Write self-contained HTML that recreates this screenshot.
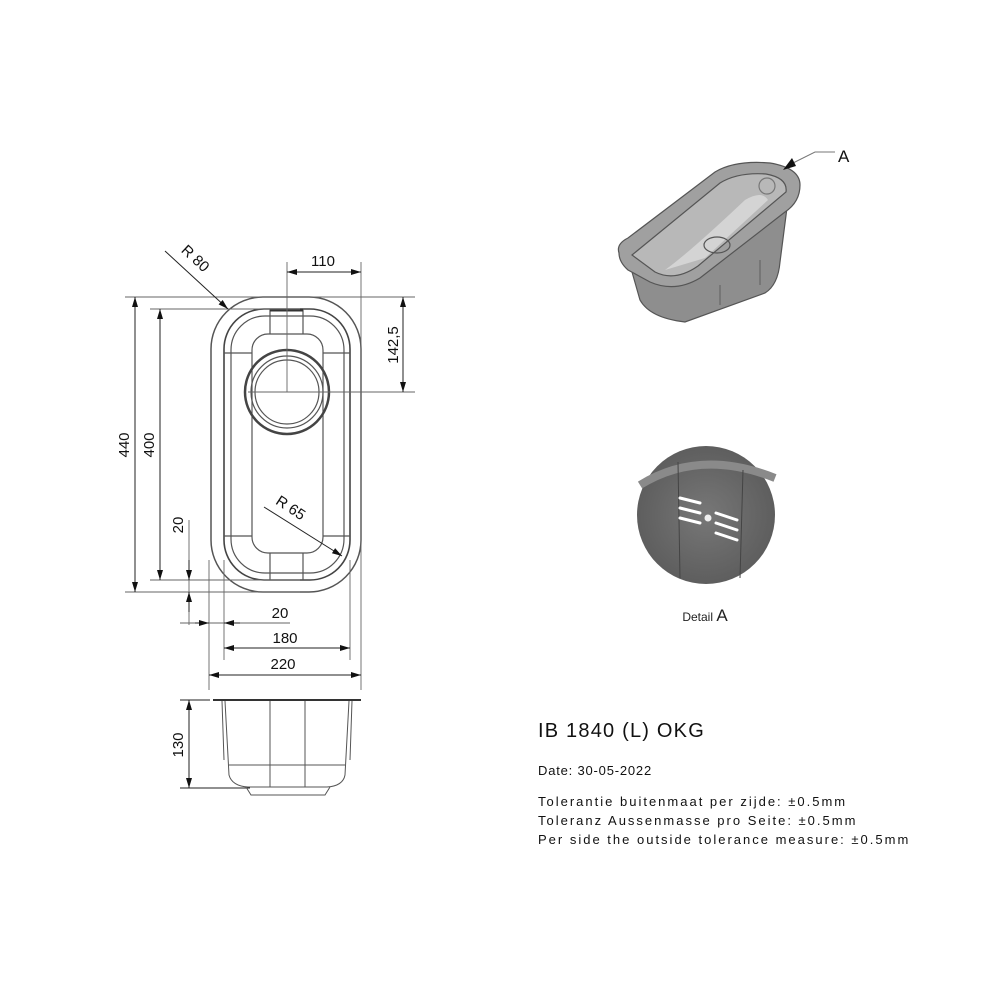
<!DOCTYPE html>
<html><head><meta charset="utf-8"><style>
html,body{margin:0;padding:0;background:#fff;}
svg{display:block;font-family:"Liberation Sans",sans-serif;}
</style></head><body>
<svg width="1000" height="1000" viewBox="0 0 1000 1000" xmlns="http://www.w3.org/2000/svg">
<defs>
<marker id="a" viewBox="0 0 10 6" refX="10" refY="3" markerWidth="11" markerHeight="6" markerUnits="userSpaceOnUse" orient="auto-start-reverse"><path d="M0,0L10,3L0,6z" fill="#111"/></marker>
<radialGradient id="dg" cx="0.5" cy="0.5" r="0.5"><stop offset="0" stop-color="#777"/><stop offset="1" stop-color="#5e5e5e"/></radialGradient>
</defs>
<g fill="none" stroke="#555" stroke-width="1.2">
<rect x="211" y="297" width="150" height="295" rx="52" stroke-width="1.5"/>
<rect x="224" y="309" width="126" height="271" rx="40" stroke-width="1.6" stroke="#444"/>
<rect x="231" y="316" width="113" height="257" rx="34"/>
<rect x="252" y="334" width="71" height="219" rx="16"/>
<line x1="224" y1="353" x2="252" y2="353"/><line x1="323" y1="353" x2="350" y2="353"/>
<line x1="224" y1="536" x2="252" y2="536"/><line x1="323" y1="536" x2="350" y2="536"/>
<path d="M270 309V334M303 309V334M270 553V580M303 553V580"/>
<line x1="270" y1="310" x2="303" y2="310" stroke-width="3" stroke="#333"/>
<circle cx="287" cy="392" r="42" stroke-width="2.5" stroke="#444"/>
<circle cx="287" cy="392" r="36"/>
<circle cx="287" cy="392" r="32"/>
</g>
<g stroke="#666" stroke-width="0.9" fill="none">
<line x1="287" y1="262" x2="287" y2="392"/><line x1="361" y1="262" x2="361" y2="690"/>
<line x1="248" y1="392" x2="415" y2="392"/>
<line x1="125" y1="297" x2="415" y2="297"/>
<line x1="150" y1="309" x2="300" y2="309"/>
<line x1="150" y1="580" x2="300" y2="580"/>
<line x1="125" y1="592" x2="300" y2="592"/>
<line x1="209" y1="560" x2="209" y2="690"/>
<line x1="224" y1="560" x2="224" y2="660"/>
<line x1="350" y1="560" x2="350" y2="660"/>
<line x1="189" y1="520" x2="189" y2="625"/>
<line x1="180" y1="623" x2="290" y2="623"/>
</g>
<g stroke="#222" stroke-width="1" fill="none">
<line x1="287" y1="272" x2="361" y2="272" marker-start="url(#a)" marker-end="url(#a)"/>
<line x1="403" y1="297" x2="403" y2="392" marker-start="url(#a)" marker-end="url(#a)"/>
<line x1="135" y1="297" x2="135" y2="592" marker-start="url(#a)" marker-end="url(#a)"/>
<line x1="160" y1="309" x2="160" y2="580" marker-start="url(#a)" marker-end="url(#a)"/>
<line x1="189" y1="560" x2="189" y2="580" marker-end="url(#a)"/>
<line x1="189" y1="612" x2="189" y2="592" marker-end="url(#a)"/>
<line x1="195" y1="623" x2="209" y2="623" marker-end="url(#a)"/>
<line x1="240" y1="623" x2="224" y2="623" marker-end="url(#a)"/>
<line x1="224" y1="648" x2="350" y2="648" marker-start="url(#a)" marker-end="url(#a)"/>
<line x1="209" y1="675" x2="361" y2="675" marker-start="url(#a)" marker-end="url(#a)"/>
<line x1="165" y1="251" x2="228" y2="309" marker-end="url(#a)"/>
<line x1="264" y1="507" x2="342" y2="556" marker-end="url(#a)"/>
<line x1="189" y1="700" x2="189" y2="788" marker-start="url(#a)" marker-end="url(#a)"/>
<line x1="180" y1="700" x2="210" y2="700"/><line x1="180" y1="788" x2="250" y2="788"/>
</g>
<g fill="none" stroke="#555" stroke-width="1">
<line x1="213" y1="700" x2="361" y2="700" stroke-width="2" stroke="#333"/>
<path d="M225 701 L229 775 Q232 786 248 787 L327 787 Q343 786 345 775 L349 701"/>
<path d="M222 701 L224 760 M352 701 L350 760"/>
<path d="M270 701V787M305 701V787M229 765H345"/>
<path d="M246 787 L251 795 H325 L330 787"/>
</g>
<g font-size="15" fill="#111" text-anchor="middle">
<text x="323" y="266">110</text>
<text transform="translate(398,345) rotate(-90)">142,5</text>
<text transform="translate(129,445) rotate(-90)">440</text>
<text transform="translate(154,445) rotate(-90)">400</text>
<text transform="translate(183,525) rotate(-90)">20</text>
<text transform="translate(183,745) rotate(-90)">130</text>
<text x="280" y="618">20</text>
<text x="285" y="643">180</text>
<text x="283" y="669">220</text>
<text transform="translate(192,262) rotate(43)">R  80</text>
<text transform="translate(288,512) rotate(33)">R  65</text>
</g>
<!-- iso sink -->
<g stroke="#555" stroke-width="1.2">
<path d="M630 265 L640 300 Q650 318 685 322 L765 293 Q778 285 780 262 L788 200 Z" fill="#8e8e8e"/>
<path d="M619 253 Q616 244 628 238 L715 172 Q735 160 770 163 Q800 168 800 185 Q800 202 785 212 L700 278 Q675 293 650 282 L628 270 Q619 262 619 253Z" fill="#a0a0a0"/>
<path d="M632 255 L720 183 Q738 172 766 174 Q788 178 786 192 L698 266 Q675 282 655 272 Z" fill="#b8b8b8"/>
<path d="M665 270 Q690 252 745 200 Q762 190 768 200 L705 258Z" fill="#d4d4d4" stroke="none"/>
<ellipse cx="717" cy="245" rx="13" ry="8" fill="none"/>
<circle cx="767" cy="186" r="8" fill="none" stroke="#777"/>
<path d="M720 285V305M760 260V285" fill="none" stroke="#666"/>
</g>
<polyline points="787,166 815,152 835,152" fill="none" stroke="#777" stroke-width="1"/>
<path d="M783 170 L792 158 L796 166Z" fill="#111"/>
<text x="838" y="162" font-size="17" fill="#111">A</text>
<!-- detail A -->
<circle cx="706" cy="515" r="69" fill="url(#dg)"/>
<path d="M640 485 Q700 448 775 478" stroke="#8a8a8a" stroke-width="8" fill="none"/>
<path d="M678 462 L680 578 M743 470 L740 578" stroke="#444" stroke-width="1" fill="none"/>
<g stroke="#fff" stroke-width="3" stroke-linecap="round">
<line x1="680" y1="498" x2="700" y2="503"/>
<line x1="680" y1="508" x2="700" y2="513"/><line x1="716" y1="513" x2="737" y2="520"/>
<line x1="680" y1="518" x2="700" y2="523"/><line x1="716" y1="523" x2="737" y2="530"/>
<line x1="716" y1="533" x2="737" y2="540"/>
</g>
<circle cx="708" cy="518" r="3.5" fill="#eee"/>
<text x="705" y="621" font-size="12" fill="#222" text-anchor="middle">Detail <tspan font-size="17">A</tspan></text>
<g fill="#111">
<text x="538" y="737" font-size="20" letter-spacing="1.2">IB 1840 (L) OKG</text>
<text x="538" y="775" font-size="13" letter-spacing="0.8">Date: 30-05-2022</text>
<text x="538" y="806" font-size="13" letter-spacing="2">Tolerantie buitenmaat per zijde: ±0.5mm</text>
<text x="538" y="825" font-size="13" letter-spacing="2">Toleranz Aussenmasse pro Seite: ±0.5mm</text>
<text x="538" y="844" font-size="13" letter-spacing="2">Per side the outside tolerance measure: ±0.5mm</text>
</g>
</svg>
</body></html>
